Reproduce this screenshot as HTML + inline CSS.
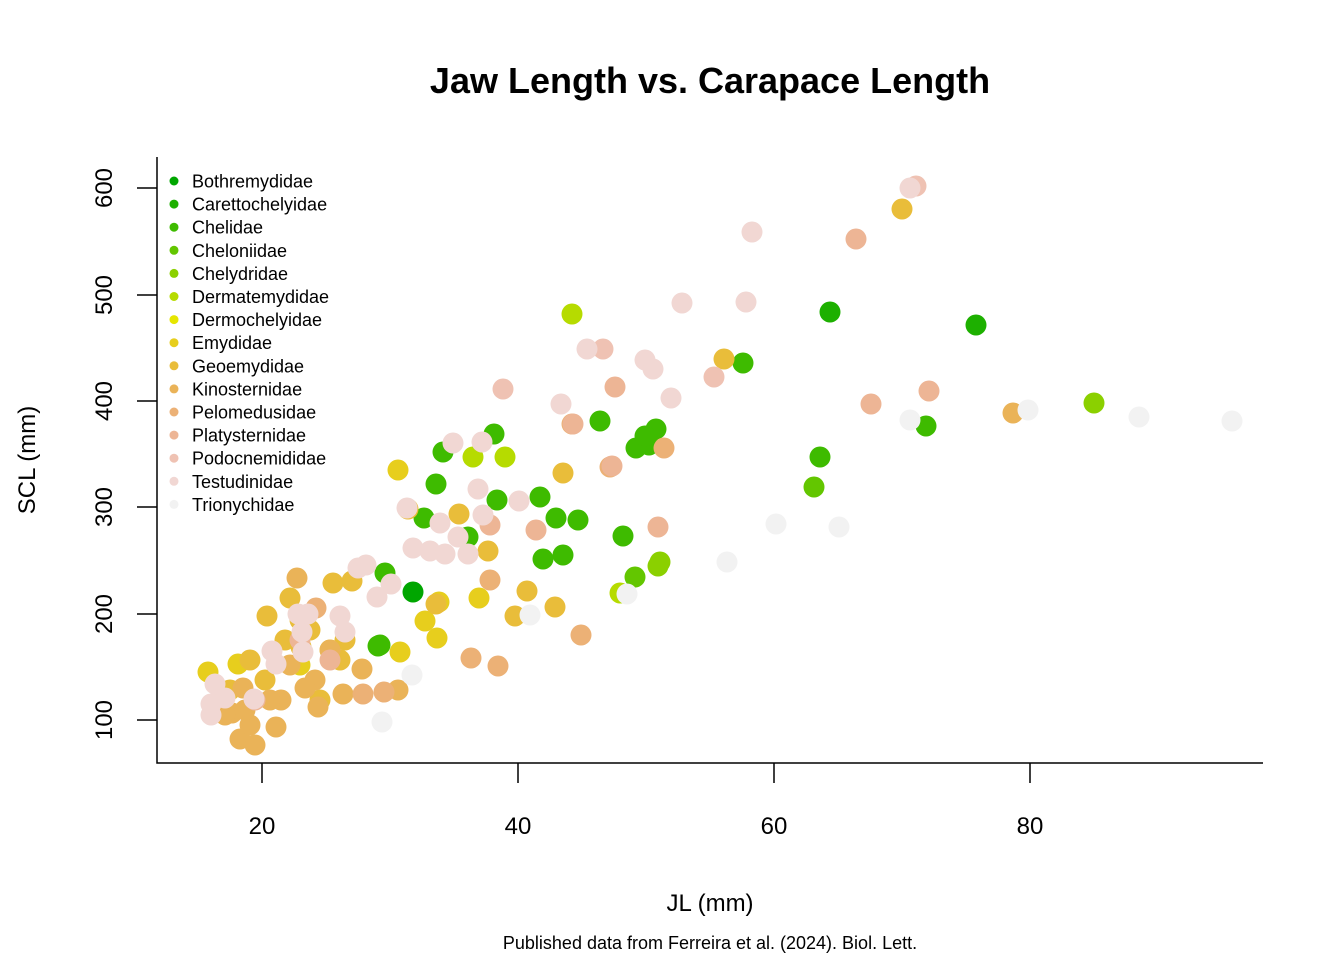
<!DOCTYPE html>
<html><head><meta charset="utf-8"><style>
html,body{margin:0;padding:0;background:#fff;}
svg{display:block;font-family:"Liberation Sans",Arial,sans-serif;}
</style></head><body>
<svg id="s" width="1344" height="960" viewBox="0 0 1344 960" xmlns="http://www.w3.org/2000/svg">
<rect width="1344" height="960" fill="#fff"/>
<text x="710" y="93" font-size="36" font-weight="bold" text-anchor="middle">Jaw Length vs. Carapace Length</text>
<g id="pts"></g>
<g stroke="#000" stroke-width="1.5" fill="none">
<path d="M157,157V763H1263"/>
<path d="M262,763v20M518,763v20M774,763v20M1030,763v20"/>
<path d="M157,720h-20M157,614h-20M157,507h-20M157,401h-20M157,295h-20M157,188h-20"/>
</g>
<g font-size="24" text-anchor="middle">
<text x="262" y="834">20</text><text x="518" y="834">40</text><text x="774" y="834">60</text><text x="1030" y="834">80</text>
<text transform="translate(112,720) rotate(-90)">100</text>
<text transform="translate(112,614) rotate(-90)">200</text>
<text transform="translate(112,507) rotate(-90)">300</text>
<text transform="translate(112,401) rotate(-90)">400</text>
<text transform="translate(112,295) rotate(-90)">500</text>
<text transform="translate(112,188) rotate(-90)">600</text>
<text x="710" y="911">JL (mm)</text>
<text transform="translate(35,460) rotate(-90)">SCL (mm)</text>
</g>
<text x="710" y="949" font-size="18" text-anchor="middle">Published data from Ferreira et al. (2024). Biol. Lett.</text>
<g id="leg" font-size="18"></g>
</svg>
<script>
var C=["#00A600","#1DB000","#3EBB00","#63C600","#8BD000","#B6DB00","#E6E600","#E7CE1D","#E9BD3A","#EAB358","#ECB176","#EDB595","#EFC2B3","#F1D7D3","#F2F2F2"];
var N=["Bothremydidae","Carettochelyidae","Chelidae","Cheloniidae","Chelydridae","Dermatemydidae","Dermochelyidae","Emydidae","Geoemydidae","Kinosternidae","Pelomedusidae","Platysternidae","Podocnemididae","Testudinidae","Trionychidae"];
var ns="http://www.w3.org/2000/svg";
var leg=document.getElementById("leg");
N.forEach(function(n,i){var y=181+i*23.1;
var c=document.createElementNS(ns,"circle");c.setAttribute("cx",174);c.setAttribute("cy",y);c.setAttribute("r",4.5);c.setAttribute("fill",C[i]);leg.appendChild(c);
var t=document.createElementNS(ns,"text");t.setAttribute("x",192);t.setAttribute("y",y+6.5);t.textContent=n;leg.appendChild(t);});
var P={
0:[[413,592]],
1:[[830,312],[976,325]],
2:[[378,646],[385,573],[443,452],[436,484],[494,434],[424,518],[540,497],[556,518],[578,520],[543,559],[563,555],[600,421],[623,536],[649,445],[636,448],[656,429],[645,436],[743,363],[820,457],[926,426],[468,537],[497,500],[380,645]],
3:[[814,487],[635,577]],
4:[[1094,403],[660,562],[658,566]],
5:[[572,314],[473,457],[505,457],[620,593]],
7:[[398,470],[208,672],[238,664],[400,652],[479,598],[439,602],[437,638],[425,621],[300,665],[330,650],[216,706]],
8:[[902,209],[724,359],[563,473],[488,551],[527,591],[555,607],[515,616],[459,514],[408,509],[333,583],[352,581],[267,616],[436,604],[301,647],[290,598],[300,620],[250,660],[265,680],[320,700],[340,660],[230,690],[285,640],[310,630],[345,640]],
9:[[1013,413],[398,690],[343,694],[318,707],[362,669],[276,727],[240,739],[250,725],[232,713],[243,688],[281,700],[297,578],[270,700],[225,715],[255,745],[290,665],[315,680],[330,650],[245,710],[305,688]],
10:[[610,467],[664,448],[490,580],[581,635],[471,658],[498,666],[384,692],[363,694],[572,424],[316,608]],
11:[[856,239],[929,391],[871,404],[658,527],[536,530],[615,387],[573,424],[612,466],[300,640],[330,660],[255,700],[490,525]],
12:[[916,186],[714,377],[603,349],[503,389]],
13:[[910,188],[752,232],[682,303],[746,302],[587,349],[645,360],[653,369],[671,398],[561,404],[482,442],[453,443],[478,489],[407,508],[519,501],[413,548],[440,523],[430,551],[445,554],[468,554],[458,537],[483,515],[366,565],[358,568],[377,597],[391,584],[340,616],[345,632],[298,614],[302,632],[308,614],[272,651],[276,664],[254,699],[215,684],[211,704],[211,715],[303,652],[225,698]],
14:[[910,420],[1028,410],[1139,417],[1232,421],[776,524],[839,527],[727,562],[627,594],[530,615],[412,675],[382,722]]
};
var g=document.getElementById("pts");
for(var k in P){P[k].forEach(function(p){var c=document.createElementNS(ns,"circle");c.setAttribute("cx",p[0]);c.setAttribute("cy",p[1]);c.setAttribute("r",10.5);c.setAttribute("fill",C[k]);g.appendChild(c);});}
</script>
</body></html>
